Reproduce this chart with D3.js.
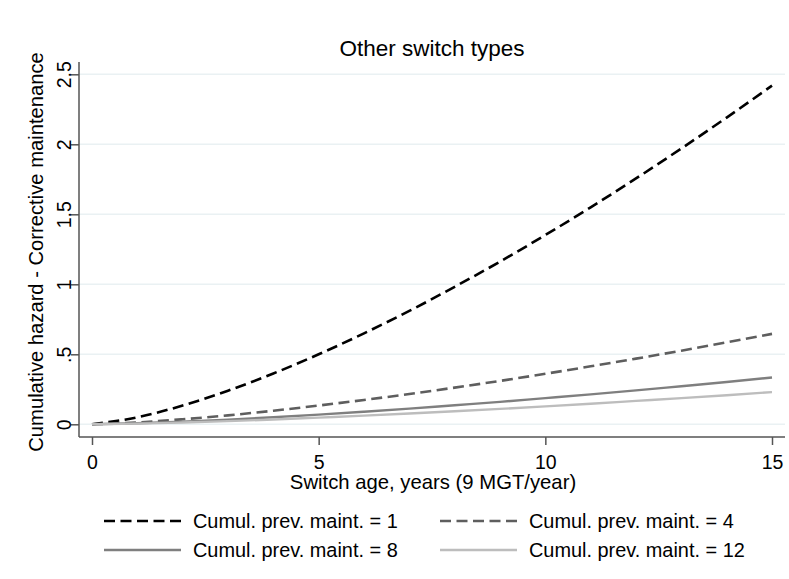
<!DOCTYPE html>
<html><head><meta charset="utf-8">
<script src="https://cdn.jsdelivr.net/npm/d3@7"></script>
<style>
html,body{margin:0;padding:0;background:#fff;}
svg text{font-family:"Liberation Sans",Arial,sans-serif;fill:#000;}
</style></head>
<body><svg id="c" width="789" height="579"></svg>
<script>
// ---- data ----
const years = [0,1,2,3,4,5,6,7,8,9,10,11,12,13,14,15];
const prev1  = [0,0.050,0.134,0.240,0.363,0.500,0.650,0.810,0.982,1.162,1.352,1.550,1.756,1.970,2.191,2.419];
const prev4  = [0,0.013,0.036,0.064,0.097,0.134,0.174,0.216,0.262,0.310,0.361,0.414,0.469,0.526,0.585,0.646];
const prev8  = [0,0.007,0.018,0.033,0.050,0.069,0.090,0.112,0.136,0.160,0.187,0.214,0.242,0.272,0.302,0.334];
const prev12 = [0,0.005,0.013,0.023,0.034,0.048,0.062,0.077,0.093,0.110,0.128,0.147,0.167,0.187,0.208,0.230];
const seriesNames = ["Cumul. prev. maint. = 1","Cumul. prev. maint. = 4","Cumul. prev. maint. = 8","Cumul. prev. maint. = 12"];
const xTicks = [0,5,10,15];
const yTicks = [0,0.5,1,1.5,2,2.5];
const yTickLabels = ["0",".5","1","1.5","2","2.5"];
const title = "Other switch types";
const xTitle = "Switch age, years (9 MGT/year)";
const yTitle = "Cumulative hazard - Corrective maintenance";

const styles = [
  {color:"#000000", dash:"11,5.5", width:2.6},
  {color:"#5e5e5e", dash:"11,5.5", width:2.6},
  {color:"#7f7f7f", dash:null, width:2.4},
  {color:"#bdbdbd", dash:null, width:2.4}
];
const seriesData = [prev1, prev4, prev8, prev12];

const svg = d3.select("#c");
const pLeft = 79, pRight = 785, pTop = 62, pBottom = 437;
const x = d3.scaleLinear().domain([0,15]).range([92,772]);
const y = d3.scaleLinear().domain([0,2.5]).range([424.3,74.3]);

// gridlines
svg.append("g").selectAll("line").data(yTicks).join("line")
  .attr("x1",pLeft).attr("x2",pRight)
  .attr("y1",d=>y(d)).attr("y2",d=>y(d))
  .attr("stroke","#eaf1f3").attr("stroke-width",1.6);

// axes
const yAxis = d3.axisLeft(y).tickValues(yTicks).tickSize(8).tickFormat((d,i)=>yTickLabels[i]);
const gy = svg.append("g").attr("transform",`translate(${pLeft},0)`).call(yAxis);
gy.select(".domain").attr("d",`M0,${pTop}V${pBottom}`).attr("stroke","#555").attr("stroke-width",1.5);
gy.selectAll(".tick line").attr("stroke","#555").attr("stroke-width",1.5);
gy.selectAll(".tick text")
  .attr("x",0).attr("dy",0)
  .attr("transform","translate(-8,0) rotate(-90)")
  .attr("text-anchor","middle")
  .style("font-size","19.5px").style("font-family","Liberation Sans, Arial, sans-serif").attr("fill","#000");

const xAxis = d3.axisBottom(x).tickValues(xTicks).tickSize(8).tickFormat(d3.format("d"));
const gx = svg.append("g").attr("transform",`translate(0,${pBottom})`).call(xAxis);
gx.select(".domain").attr("d",`M${pLeft},0H${pRight}`).attr("stroke","#555").attr("stroke-width",1.5);
gx.selectAll(".tick line").attr("stroke","#555").attr("stroke-width",1.5);
gx.selectAll(".tick text").attr("y",32).attr("dy",0)
  .style("font-size","19.5px").style("font-family","Liberation Sans, Arial, sans-serif").attr("fill","#000");

// lines
const line = d3.line().x((d,i)=>x(years[i])).y(d=>y(d)).curve(d3.curveMonotoneX);
seriesData.forEach((s,k)=>{
  svg.append("path").datum(s).attr("d",line)
    .attr("fill","none").attr("stroke",styles[k].color)
    .attr("stroke-width",styles[k].width)
    .attr("stroke-dasharray",styles[k].dash);
});

// titles
svg.append("text").attr("x",432).attr("y",56).attr("text-anchor","middle")
  .style("font-size","22.5px").text(title);
svg.append("text").attr("x",433).attr("y",489).attr("text-anchor","middle")
  .style("font-size","20.3px").text(xTitle);
svg.append("text").attr("transform",`translate(43,252) rotate(-90)`)
  .attr("text-anchor","middle").style("font-size","20.2px").text(yTitle);

// legend
const legPos = [[104,521],[440,521],[104,550],[440,550]];
seriesNames.forEach((n,k)=>{
  const [lx,ly] = legPos[k];
  svg.append("line").attr("x1",lx).attr("x2",lx+77).attr("y1",ly).attr("y2",ly)
    .attr("stroke",styles[k].color).attr("stroke-width",styles[k].width)
    .attr("stroke-dasharray",styles[k].dash);
  svg.append("text").attr("x",lx+89).attr("y",ly+7).style("font-size","19.9px").text(n);
});
</script></body></html>
